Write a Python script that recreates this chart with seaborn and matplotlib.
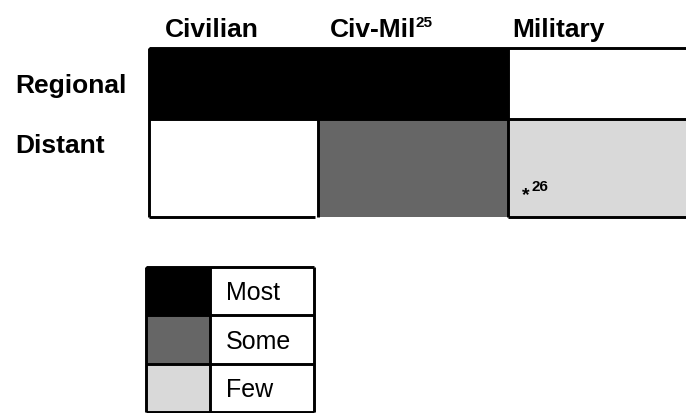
import numpy as np
import pandas as pd
import matplotlib
matplotlib.use("Agg")
import matplotlib.pyplot as plt
from matplotlib.colors import ListedColormap
import seaborn as sns

# ---- data ----
rows = ["Regional", "Distant"]
cols = ["Civilian", "Civ-Mil", "Military"]
col_notes = ["", "25", ""]
levels = ["None", "Few", "Some", "Most"]
regional = ["Most", "Most", "None"]
distant = ["None", "Some", "Few"]
legend_levels = ["Most", "Some", "Few"]
cell_note = "26"  # footnote on Distant / Military

sns.set_theme(style="white")
plt.rcParams["font.family"] = ["Liberation Sans", "DejaVu Sans"]

W, H = 686, 414
fig = plt.figure(figsize=(W / 100, H / 100), dpi=100)
fig.patch.set_facecolor("white")

def fx(px):
    return px / W

def fy(py):
    return 1 - py / H

cmap = ListedColormap(["white", "#d9d9d9", "#666666", "black"])
lvl = {n: i for i, n in enumerate(levels)}
mat = pd.DataFrame([[lvl[v] for v in regional], [lvl[v] for v in distant]],
                   index=rows, columns=cols)

# ---- main grid ----
gx0, gx1, gy0, gy1 = 149, 698, 49, 218
ax = fig.add_axes([fx(gx0), fy(gy1), (gx1 - gx0) / W, (gy1 - gy0) / H])
sns.heatmap(mat, ax=ax, cmap=cmap, vmin=-0.5, vmax=3.5, cbar=False,
            xticklabels=False, yticklabels=False, linewidths=0)
xe = [0, 169, 359, 549]
ye = [0, 71, 169]
ax.set_xscale("function", functions=(lambda v: np.interp(v, [0, 1, 2, 3], xe),
                                     lambda v: np.interp(v, xe, [0, 1, 2, 3])))
ax.set_yscale("function", functions=(lambda v: np.interp(v, [0, 1, 2], ye),
                                     lambda v: np.interp(v, ye, [0, 1, 2])))
ax.set_xlim(0, 3)
ax.set_ylim(2, 0)
ax.set_xticks([]); ax.set_yticks([])
ax.set_xlabel(""); ax.set_ylabel("")
for s in ax.spines.values():
    s.set_visible(False)
lw = 2.1
kw = dict(color="black", lw=lw, clip_on=False, solid_capstyle="butt")
ax.plot([0, 3], [0, 0], **kw)
ax.plot([0, 3], [1, 1], **kw)
ax.plot([0, 0], [0, 2], **kw)
ax.plot([1, 1], [0, 2], **kw)
ax.plot([2, 2], [0, 2], **kw)
ax.plot([-0.02, 0.98], [2, 2], **kw)
ax.plot([2, 3], [2, 2], **kw)

# headers
hx = [165, 330, 512]
for x, name, note in zip(hx, cols, col_notes):
    t = fig.text(fx(x), fy(37), name, fontsize=19, fontweight="bold",
                 ha="left", va="baseline", color="black")
    if note:
        fig.canvas.draw()
        bb = t.get_window_extent()
        fig.text((bb.x1 - 1) / W, fy(27), note, fontsize=11, fontweight="bold",
                 ha="left", va="baseline", color="black")

# row labels
for y, name in zip([93, 153], rows):
    fig.text(fx(15), fy(y), name, fontsize=19, fontweight="bold",
             ha="left", va="baseline", color="black")

# footnote mark in Distant / Military
fig.text(fx(522), fy(200), "*", fontsize=14, fontweight="bold",
         ha="left", va="baseline", color="black")
fig.text(fx(531), fy(191), cell_note, fontsize=11, fontweight="bold",
         ha="left", va="baseline", color="black")

# ---- legend ----
lx0, lx1, ly0, ly1 = 146, 314, 268, 413
lax = fig.add_axes([fx(lx0), fy(ly1), (lx1 - lx0) / W, (ly1 - ly0) / H])
leg = pd.DataFrame({"swatch": [lvl[v] for v in legend_levels],
                    "label": [0] * len(legend_levels)}, index=legend_levels)
sns.heatmap(leg, ax=lax, cmap=cmap, vmin=-0.5, vmax=3.5, cbar=False,
            xticklabels=False, yticklabels=False, linewidths=0)
lxe = [0, 64, 168]
lax.set_xscale("function", functions=(lambda v: np.interp(v, [0, 1, 2], lxe),
                                      lambda v: np.interp(v, lxe, [0, 1, 2])))
lax.set_xlim(0, 2)
lax.set_ylim(3, 0)
lax.set_xticks([]); lax.set_yticks([])
lax.set_xlabel(""); lax.set_ylabel("")
for s in lax.spines.values():
    s.set_visible(False)
for yy in [0, 1, 2, 3]:
    lax.plot([0, 2], [yy, yy], **kw)
for xx in [0, 1, 2]:
    lax.plot([xx, xx], [0, 3], **kw)
for i, name in enumerate(legend_levels):
    fig.text(fx(226), fy(ly0 + (i + 1) * 48.3 - 16), name, fontsize=18,
             ha="left", va="baseline", color="black")

fig.savefig("out.png", dpi=100, facecolor="white")
